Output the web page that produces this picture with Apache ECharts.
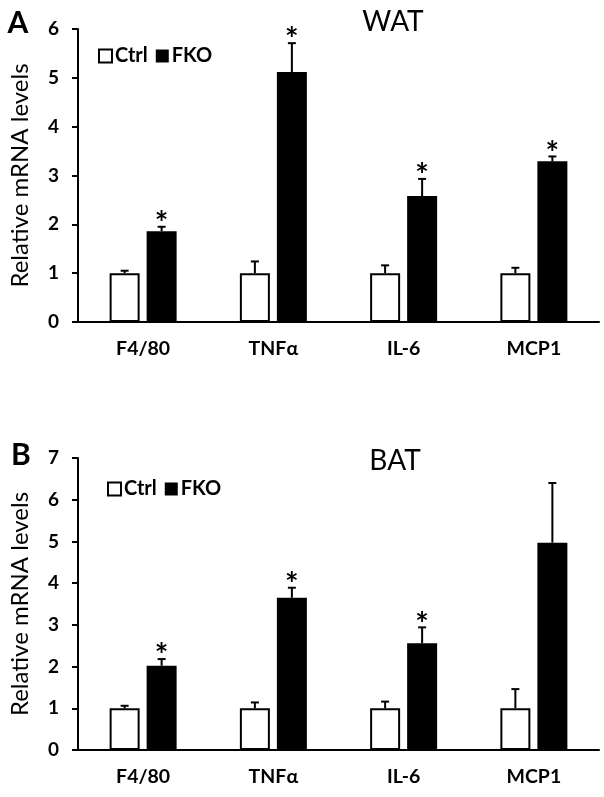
<!DOCTYPE html>
<html><head><meta charset="utf-8">
<script src="https://cdn.jsdelivr.net/npm/echarts@6/dist/echarts.min.js"></script>
<style>html,body{margin:0;padding:0;background:#fff}#c{width:604px;height:797px}</style>
</head><body><div id="c"></div>
<script>
// ---- data ----
const categories = ['F4/80', 'TNFα', 'IL-6', 'MCP1'];
const watCtrl = [1, 1, 1, 1];
const watCtrlErr = [0.05, 0.24, 0.16, 0.11];
const watFko = [1.86, 5.12, 2.58, 3.29];
const watFkoErr = [0.09, 0.59, 0.35, 0.10];
const watSig = [1, 1, 1, 1];
const batCtrl = [1, 1, 1, 1];
const batCtrlErr = [0.06, 0.14, 0.16, 0.46];
const batFko = [2.02, 3.65, 2.56, 4.97];
const batFkoErr = [0.16, 0.24, 0.38, 1.43];
const batSig = [1, 1, 1, 0];
const watYTicks = [0, 1, 2, 3, 4, 5, 6];
const batYTicks = [0, 1, 2, 3, 4, 5, 6, 7];
const seriesNames = ['Ctrl', 'FKO'];
const panelTitles = ['WAT', 'BAT'];
const panelLetters = ['A', 'B'];
const yName = 'Relative mRNA levels';

// ---- style ----
const FONT = 'Lato, "Open Sans", sans-serif';
const BAR_W = 30, BAR_GAP = 7;
const OFF = (BAR_W + BAR_GAP) / 2;

function rows(mean, err, sig) {
  return mean.map((m, i) => [i, m, err[i], sig ? sig[i] : 0]);
}

function errRender(offset) {
  return function (params, api) {
    const c = api.value(0), m = api.value(1), e = api.value(2), s = api.value(3);
    const base = api.coord([c, m]);
    const top = api.coord([c, m + e]);
    const x = base[0] + offset;
    const children = [
      { type: 'line', shape: { x1: x, y1: base[1], x2: x, y2: top[1] }, style: { stroke: '#000', lineWidth: 2 } },
      { type: 'line', shape: { x1: x - 4, y1: top[1], x2: x + 4, y2: top[1] }, style: { stroke: '#000', lineWidth: 2 } }
    ];
    if (s) {
      children.push({ type: 'text', x: x, y: top[1] - 2,
        style: { text: '*', font: 'bold 32px ' + FONT, fill: '#000', align: 'center', verticalAlign: 'middle' } });
    }
    return { type: 'group', children: children };
  };
}

const grids = [
  { left: 77, top: 29, width: 522, height: 293 },
  { left: 77, top: 458, width: 522, height: 292 }
];

function xAxis(gi) {
  return {
    type: 'category', gridIndex: gi, data: categories,
    axisLine: { lineStyle: { color: '#000', width: 2 } },
    axisTick: { show: false },
    axisLabel: { color: '#000', fontFamily: FONT, fontWeight: 'bold', fontSize: 19.5, margin: 17 },
    splitLine: { show: false }
  };
}
function yAxis(gi, ticks) {
  return {
    type: 'value', gridIndex: gi, min: ticks[0], max: ticks[ticks.length - 1], interval: ticks[1] - ticks[0],
    name: yName, nameLocation: 'middle', nameGap: 46, nameRotate: 90,
    nameTextStyle: { color: '#000', fontFamily: FONT, fontSize: 24 },
    axisLine: { show: true, lineStyle: { color: '#000', width: 2 } },
    axisTick: { show: true, inside: false, length: 6, lineStyle: { color: '#000', width: 2 } },
    axisLabel: { color: '#000', fontFamily: FONT, fontWeight: 'bold', fontSize: 19, margin: 19 },
    splitLine: { show: false }
  };
}

const ctrlStyle = { color: '#fff', borderColor: '#000', borderWidth: 2 };
const fkoStyle = { color: '#000', borderColor: '#000', borderWidth: 0 };

function panelSeries(gi, ctrl, ctrlErr, fko, fkoErr, sig) {
  return [
    { name: seriesNames[0], type: 'bar', xAxisIndex: gi, yAxisIndex: gi, data: ctrl,
      barWidth: BAR_W, barGap: (BAR_GAP / BAR_W * 100) + '%', itemStyle: ctrlStyle, silent: true },
    { name: seriesNames[1], type: 'bar', xAxisIndex: gi, yAxisIndex: gi, data: fko,
      barWidth: BAR_W, itemStyle: fkoStyle, silent: true },
    { type: 'custom', xAxisIndex: gi, yAxisIndex: gi, data: rows(ctrl, ctrlErr, null),
      renderItem: errRender(-OFF), z: 5, silent: true },
    { type: 'custom', xAxisIndex: gi, yAxisIndex: gi, data: rows(fko, fkoErr, sig),
      renderItem: errRender(OFF), z: 5, silent: true }
  ];
}

function legend(left, top) {
  return {
    left: left, top: top, padding: 0, itemWidth: 13, itemHeight: 13, itemGap: 8,
    selectedMode: false, icon: 'rect',
    textStyle: { color: '#000', fontFamily: FONT, fontWeight: 'bold', fontSize: 20, padding: [0, 0, 0, -2] },
    data: [
      { name: seriesNames[0], itemStyle: { color: '#fff', borderColor: '#000', borderWidth: 2 } },
      { name: seriesNames[1], itemStyle: { color: '#000', borderWidth: 0 } }
    ]
  };
}

function txt(t, x, y, font) {
  return { type: 'text', x: x, y: y, style: { text: t, font: font, fill: '#000', align: 'center', verticalAlign: 'middle' } };
}

const chart = echarts.init(document.getElementById('c'), null, { renderer: 'canvas' });
chart.setOption({
  animation: false,
  backgroundColor: '#fff',
  grid: grids,
  xAxis: [xAxis(0), xAxis(1)],
  yAxis: [yAxis(0, watYTicks), yAxis(1, batYTicks)],
  legend: [legend(98, 46), legend(107, 479)],
  series: [].concat(
    panelSeries(0, watCtrl, watCtrlErr, watFko, watFkoErr, watSig),
    panelSeries(1, batCtrl, batCtrlErr, batFko, batFkoErr, batSig)
  ),
  graphic: [
    txt(panelLetters[0], 18, 23, 'bold 30px ' + FONT),
    txt(panelLetters[1], 21, 455, 'bold 30px ' + FONT),
    txt(panelTitles[0], 393, 22, '28px ' + FONT),
    txt(panelTitles[1], 395, 461, '28px ' + FONT)
  ]
});
</script>
</body></html>
